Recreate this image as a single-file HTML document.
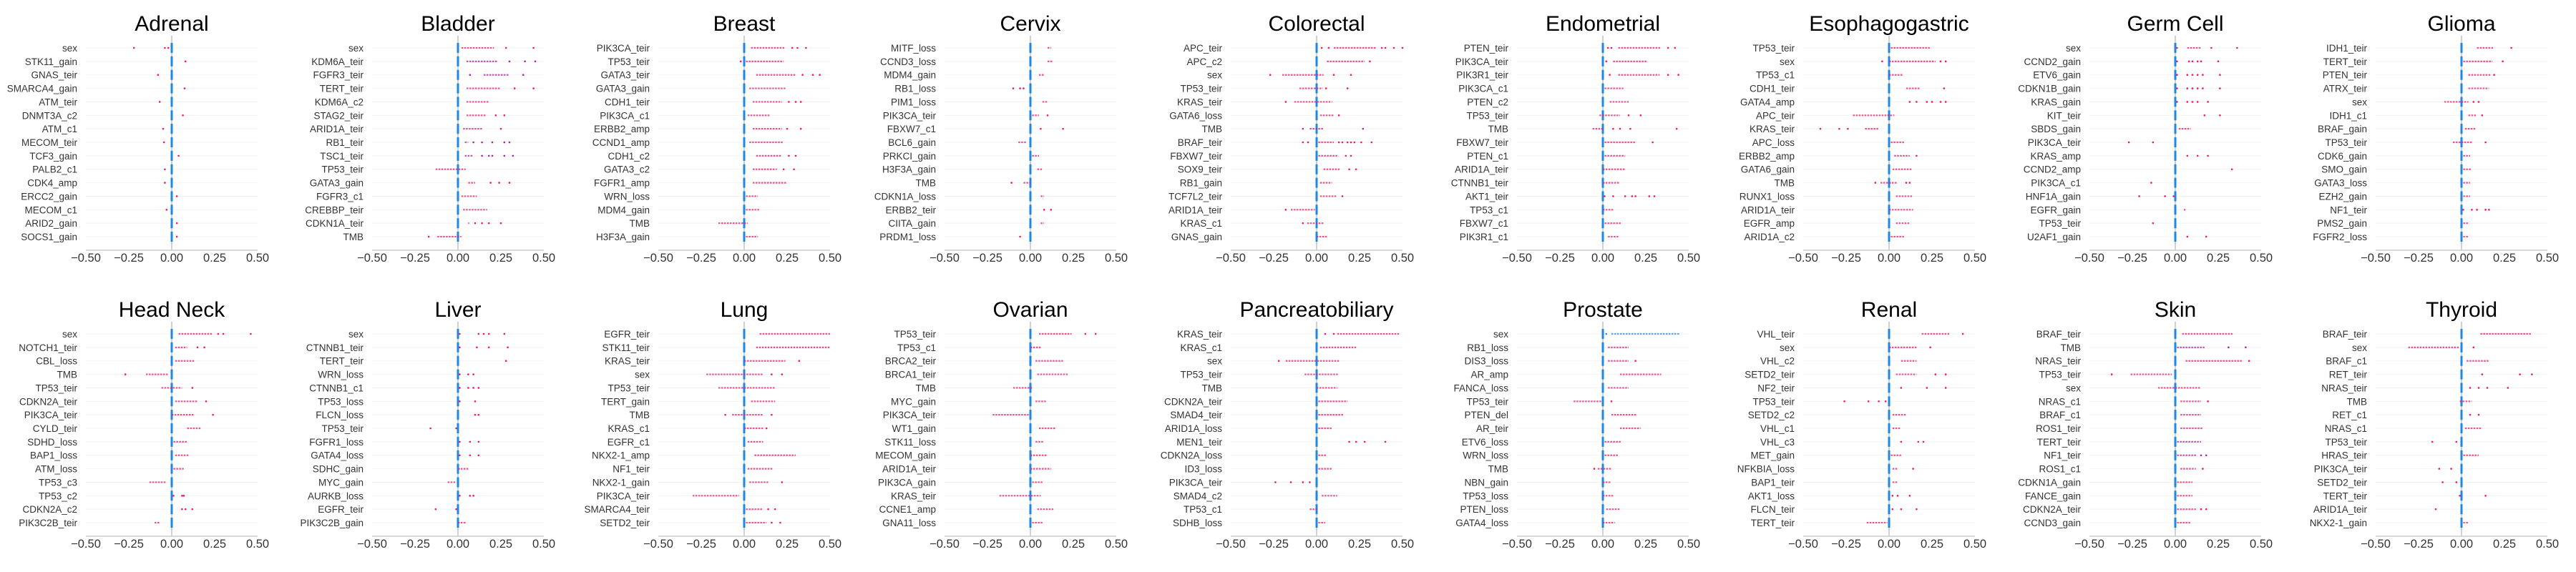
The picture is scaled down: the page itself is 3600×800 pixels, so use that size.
<!DOCTYPE html>
<html><head><meta charset="utf-8">
<style>
html,body{margin:0;padding:0;background:#fff;}
svg{display:block;font-family:"Liberation Sans",Arial,sans-serif;}
</style></head>
<body>
<svg id="chart" width="3600" height="800" viewBox="0 0 3600 800" xmlns="http://www.w3.org/2000/svg"></svg>
<script>
const panelTitles = ["Adrenal","Bladder","Breast","Cervix","Colorectal","Endometrial","Esophagogastric","Germ Cell","Glioma",
"Head Neck","Liver","Lung","Ovarian","Pancreatobiliary","Prostate","Renal","Skin","Thyroid"];
const tickValues = [-0.5,-0.25,0,0.25,0.5];
const tickLabels = ["\u22120.50","\u22120.25","0.00","0.25","0.50"];
const featureLabels = [
["sex","STK11_gain","GNAS_teir","SMARCA4_gain","ATM_teir","DNMT3A_c2","ATM_c1","MECOM_teir","TCF3_gain","PALB2_c1","CDK4_amp","ERCC2_gain","MECOM_c1","ARID2_gain","SOCS1_gain"],
["sex","KDM6A_teir","FGFR3_teir","TERT_teir","KDM6A_c2","STAG2_teir","ARID1A_teir","RB1_teir","TSC1_teir","TP53_teir","GATA3_gain","FGFR3_c1","CREBBP_teir","CDKN1A_teir","TMB"],
["PIK3CA_teir","TP53_teir","GATA3_teir","GATA3_gain","CDH1_teir","PIK3CA_c1","ERBB2_amp","CCND1_amp","CDH1_c2","GATA3_c2","FGFR1_amp","WRN_loss","MDM4_gain","TMB","H3F3A_gain"],
["MITF_loss","CCND3_loss","MDM4_gain","RB1_loss","PIM1_loss","PIK3CA_teir","FBXW7_c1","BCL6_gain","PRKCI_gain","H3F3A_gain","TMB","CDKN1A_loss","ERBB2_teir","CIITA_gain","PRDM1_loss"],
["APC_teir","APC_c2","sex","TP53_teir","KRAS_teir","GATA6_loss","TMB","BRAF_teir","FBXW7_teir","SOX9_teir","RB1_gain","TCF7L2_teir","ARID1A_teir","KRAS_c1","GNAS_gain"],
["PTEN_teir","PIK3CA_teir","PIK3R1_teir","PIK3CA_c1","PTEN_c2","TP53_teir","TMB","FBXW7_teir","PTEN_c1","ARID1A_teir","CTNNB1_teir","AKT1_teir","TP53_c1","FBXW7_c1","PIK3R1_c1"],
["TP53_teir","sex","TP53_c1","CDH1_teir","GATA4_amp","APC_teir","KRAS_teir","APC_loss","ERBB2_amp","GATA6_gain","TMB","RUNX1_loss","ARID1A_teir","EGFR_amp","ARID1A_c2"],
["sex","CCND2_gain","ETV6_gain","CDKN1B_gain","KRAS_gain","KIT_teir","SBDS_gain","PIK3CA_teir","KRAS_amp","CCND2_amp","PIK3CA_c1","HNF1A_gain","EGFR_gain","TP53_teir","U2AF1_gain"],
["IDH1_teir","TERT_teir","PTEN_teir","ATRX_teir","sex","IDH1_c1","BRAF_gain","TP53_teir","CDK6_gain","SMO_gain","GATA3_loss","EZH2_gain","NF1_teir","PMS2_gain","FGFR2_loss"],
["sex","NOTCH1_teir","CBL_loss","TMB","TP53_teir","CDKN2A_teir","PIK3CA_teir","CYLD_teir","SDHD_loss","BAP1_loss","ATM_loss","TP53_c3","TP53_c2","CDKN2A_c2","PIK3C2B_teir"],
["sex","CTNNB1_teir","TERT_teir","WRN_loss","CTNNB1_c1","TP53_loss","FLCN_loss","TP53_teir","FGFR1_loss","GATA4_loss","SDHC_gain","MYC_gain","AURKB_loss","EGFR_teir","PIK3C2B_gain"],
["EGFR_teir","STK11_teir","KRAS_teir","sex","TP53_teir","TERT_gain","TMB","KRAS_c1","EGFR_c1","NKX2-1_amp","NF1_teir","NKX2-1_gain","PIK3CA_teir","SMARCA4_teir","SETD2_teir"],
["TP53_teir","TP53_c1","BRCA2_teir","BRCA1_teir","TMB","MYC_gain","PIK3CA_teir","WT1_gain","STK11_loss","MECOM_gain","ARID1A_teir","PIK3CA_gain","KRAS_teir","CCNE1_amp","GNA11_loss"],
["KRAS_teir","KRAS_c1","sex","TP53_teir","TMB","CDKN2A_teir","SMAD4_teir","ARID1A_loss","MEN1_teir","CDKN2A_loss","ID3_loss","PIK3CA_teir","SMAD4_c2","TP53_c1","SDHB_loss"],
["sex","RB1_loss","DIS3_loss","AR_amp","FANCA_loss","TP53_teir","PTEN_del","AR_teir","ETV6_loss","WRN_loss","TMB","NBN_gain","TP53_loss","PTEN_loss","GATA4_loss"],
["VHL_teir","sex","VHL_c2","SETD2_teir","NF2_teir","TP53_teir","SETD2_c2","VHL_c1","VHL_c3","MET_gain","NFKBIA_loss","BAP1_teir","AKT1_loss","FLCN_teir","TERT_teir"],
["BRAF_teir","TMB","NRAS_teir","TP53_teir","sex","NRAS_c1","BRAF_c1","ROS1_teir","TERT_teir","NF1_teir","ROS1_c1","CDKN1A_gain","FANCE_gain","CDKN2A_teir","CCND3_gain"],
["BRAF_teir","sex","BRAF_c1","RET_teir","NRAS_teir","TMB","RET_c1","NRAS_c1","TP53_teir","HRAS_teir","PIK3CA_teir","SETD2_teir","TERT_teir","ARID1A_teir","NKX2-1_gain"]
];
const clusterRanges = [
[null,null,null,null,null,null,null,null,null,null,null,null,null,null,null],
[[0.02,0.21],[0.05,0.23],[0.15,0.3],[0.05,0.25],[0.05,0.18],[0.05,0.16],[0.03,0.14],[0.04,0.06],[0.04,0.09],[-0.13,0.045],[0.06,0.1],[0.02,0.11],[0.03,0.17],[0.06,0.065],[-0.12,0.02]],
[[0.04,0.24],[0.01,0.23],[0.07,0.3],[0.03,0.24],[0.05,0.22],[0.02,0.15],[0.05,0.22],[0.03,0.23],[0.07,0.22],[0.05,0.19],[0.05,0.25],[0.01,0.08],[0.01,0.09],[-0.15,0.02],[0.01,0.08]],
[[0.1,0.12],[0.1,0.13],[0.05,0.08],null,[0.07,0.1],[0.01,0.05],null,[-0.07,-0.02],[0.01,0.05],[0.04,0.07],[-0.04,0],[0.06,0.08],null,[0.06,0.08],null],
[[0.1,0.35],[0.06,0.28],[-0.2,0.04],[-0.1,0.035],[-0.13,0.09],[0.02,0.1],[-0.04,0.04],[0.01,0.1],[0.01,0.12],[0.04,0.14],[0.02,0.09],[0.02,0.12],[-0.15,-0.01],[-0.055,0.045],[0,0.06]],
[[0.09,0.34],[0.06,0.26],[0.09,0.33],[0.01,0.12],[0.04,0.15],[-0.02,0.1],[-0.06,0],[0.01,0.19],[0.01,0.13],[0,0.13],[0,0.1],null,[0,0.06],[0.01,0.11],[0.03,0.09]],
[[0.01,0.24],[0,0.27],[0,0.08],[0.1,0.18],null,[-0.21,0.03],[-0.14,-0.06],[0.01,0.09],[0.03,0.12],[0.02,0.13],[-0.05,0.05],[0.04,0.14],[0,0.14],[0.04,0.12],[0.01,0.09]],
[[0.07,0.15],null,null,null,null,null,[0.02,0.09],null,null,null,null,null,[0.05,0.06],null,null],
[[0.09,0.19],[0.01,0.18],[0.04,0.17],[0.04,0.16],[-0.1,0.04],[0.04,0.09],[0.02,0.08],[-0.05,0.06],[0.01,0.05],[0.01,0.06],[0.01,0.05],[0.01,0.05],null,[0.01,0.04],[0.01,0.04]],
[[0.04,0.24],[0.02,0.09],[0.02,0.13],[-0.15,-0.02],[-0.06,0.06],[0.02,0.15],[0,0.13],[0.09,0.17],[0.01,0.09],[0.02,0.1],[0.01,0.07],[-0.13,-0.03],null,null,[-0.1,-0.07]],
[null,null,null,null,null,null,null,null,null,null,[0,0.06],[-0.06,-0.01],null,null,[0,0.05]],
[[0.09,0.5],[0.07,0.5],[0,0.24],[-0.22,0.11],[-0.15,0.18],[0.04,0.18],[-0.07,0.11],[0,0.11],[0.02,0.11],[0.06,0.3],[0.02,0.17],[0.03,0.14],[-0.3,-0.03],[0.01,0.11],[0.01,0.13]],
[[0.05,0.24],[0,0.06],[0.03,0.19],[0.04,0.22],[-0.1,0.01],[0.03,0.09],[-0.22,-0.01],[0.05,0.15],[0.03,0.08],[0,0.1],[0,0.12],[0.01,0.07],[-0.18,0.06],[0.04,0.14],[0.01,0.07]],
[[0.12,0.48],[0.02,0.23],[-0.18,0.13],[-0.07,0.13],[0,0.12],[0.01,0.18],[0.01,0.16],[0.01,0.09],null,[0.01,0.06],[0.01,0.09],null,[0.03,0.12],[-0.04,0.01],[0.01,0.05]],
[[0.05,0.45],[0.03,0.15],[0.03,0.15],[0.1,0.34],[0.03,0.15],[-0.17,-0.01],[0.05,0.2],[0.1,0.22],[0.01,0.11],[0.01,0.09],[-0.03,0.05],[0,0.05],[0,0.06],[0.02,0.1],[0,0.07]],
[[0.19,0.35],[0,0.16],[0.07,0.16],[0.04,0.16],null,null,[0.02,0.1],[0.02,0.07],null,[0.01,0.07],[0.02,0.05],[0.02,0.05],null,null,[-0.13,-0.01]],
[[0.04,0.34],[0.01,0.17],[0.06,0.39],[-0.26,-0.02],[-0.1,0.15],[0.03,0.15],[0.03,0.15],[0.03,0.16],[0.01,0.15],[0.01,0.12],[0.03,0.12],[0.01,0.1],[0.01,0.1],[0.01,0.12],[0.01,0.09]],
[[0.11,0.41],[-0.31,-0.01],[0.03,0.16],null,null,[-0.01,0.06],null,[0.02,0.12],null,[0.01,0.1],null,null,null,null,[0.01,0.04]]
];
const outlierValues = [
[[-0.22,-0.04,-0.02],[0.08],[-0.08],[0.075],[-0.07],[0.065],[-0.05],[-0.045],[0.04],[-0.04],[-0.04],[0.03],[-0.03],[0.03],[0.03]],
[[0.28,0.44],[0.3,0.39,0.45],[0.07,0.38],[0.33,0.44],[],[0.22,0.27],[0.25],[0.09,0.14,0.2,0.27,0.3],[0.14,0.18,0.2,0.27,0.32],[],[0.19,0.24,0.3],[],[],[0.1,0.14,0.18,0.25],[-0.17]],
[[0.28,0.31,0.36],[-0.02],[0.34,0.4,0.44],[],[0.26,0.3,0.33],[],[0.25,0.33],[],[0.26,0.3],[0.23,0.29],[],[],[],[],[]],
[[],[],[],[-0.1,-0.06,-0.04],[],[0.1],[0.06,0.19],[],[],[],[-0.11],[],[0.08,0.12],[],[-0.06]],
[[0.03,0.07,0.38,0.4,0.45,0.5],[0.31],[-0.27,0.1,0.2],[0.055,0.18],[-0.18],[0.13],[-0.08,0.27],[-0.08,-0.05,0.13,0.15,0.18,0.2,0.22,0.26,0.32],[0.17,0.2],[0.19,0.23],[],[0.15],[-0.18],[-0.08],[]],
[[0.03,0.05,0.38,0.42],[0.02],[0.04,0.38,0.44],[],[],[0.15,0.22],[0.06,0.1,0.16,0.43],[0.29],[],[],[],[0.01,0.06,0.13,0.17,0.19,0.27,0.3],[],[],[]],
[[],[-0.04,0.3,0.33],[],[0.32],[0.12,0.16,0.22,0.25,0.3,0.33],[],[-0.4,-0.29,-0.24],[],[0.16],[],[-0.08,0.1,0.12],[],[],[],[]],
[[0.01,0.21,0.36],[0.01,0.08,0.1,0.13,0.15,0.25],[0.01,0.07,0.1,0.13,0.16,0.26],[0.01,0.07,0.1,0.13,0.16,0.26],[0.01,0.07,0.1,0.13,0.19],[0.17,0.26],[],[-0.27,-0.13],[0.07,0.13,0.19],[0.33],[-0.14],[-0.21,-0.06,-0.01],[],[-0.13],[0.07,0.18]],
[[0.29],[0.24],[0.19],[],[0.07,0.1],[0.12],[],[0.14],[],[],[],[],[0.01,0.06,0.09,0.14,0.16],[],[]],
[[0.27,0.3,0.46],[0.15,0.19],[],[-0.27],[0.12],[0.2],[0.24],[],[],[],[],[],[0.01,0.06,0.07],[0.06,0.08,0.12],[]],
[[0.01,0.12,0.15,0.18,0.27],[0.01,0.11,0.18,0.29],[0.28],[0.01,0.06,0.09],[0.01,0.06,0.09,0.12],[0.01,0.1],[0.1,0.12],[-0.16,-0.01],[0.01,0.07,0.12],[0.01,0.07,0.12],[],[],[0.01,0.07,0.09],[-0.13,-0.01],[]],
[[],[],[0.32],[0.16,0.22],[],[],[-0.11,0.16],[0.13],[],[],[],[0.22],[],[0.14,0.18],[0.16,0.21]],
[[0.32,0.38],[],[],[],[],[],[],[],[],[],[],[],[],[],[]],
[[0.05,0.1],[],[-0.22],[],[],[],[],[],[0.19,0.23,0.28,0.4],[],[],[-0.24,-0.15,-0.08,-0.04],[],[],[]],
[[0.02],[],[0.19],[],[],[0.05],[],[],[],[],[-0.05],[],[],[],[]],
[[0.43],[0.24],[],[0.27,0.33],[0.07,0.22,0.33],[-0.26,-0.12,-0.06,-0.02],[],[],[0.07,0.17,0.2],[],[0.14],[],[0.02,0.05,0.12],[0.02,0.07,0.16],[]],
[[],[0.31,0.41],[0.43],[-0.37],[],[0.19],[],[],[],[0.15,0.18],[0.16],[],[],[0.15,0.18],[]],
[[],[0.07],[],[0.12,0.34,0.41],[0.05,0.1,0.15,0.27],[],[0.05,0.1],[],[-0.17,-0.03],[],[-0.13,-0.06],[-0.11,-0.03],[-0.01,0.14],[-0.15],[]]
];
const blueRows = [[14,0]];
const purpleRows = [[1,1],[1,2],[1,7],[1,8],[4,6],[16,1],[16,8],[16,9]];

const NS = "http://www.w3.org/2000/svg";
const svg = document.getElementById('chart');
function mk(tag, attrs, parent){ const e=document.createElementNS(NS,tag); for(const k in attrs) e.setAttribute(k,attrs[k]); (parent||svg).appendChild(e); return e; }
const PANEL_W=400, PANEL_H=400, AX_L=120, AX_R=360, ROW0=67, ROW_DY=18.86, AXIS_Y=350;
function xScale(v, ox){ return ox + AX_L + (v+0.5)*(AX_R-AX_L); }
function yRow(i, oy){ return oy + ROW0 + i*ROW_DY; }
function inList(list,p,r){ return list.some(a=>a[0]===p&&a[1]===r); }

panelTitles.forEach((title,p)=>{
  const ox=(p%9)*PANEL_W, oy=Math.floor(p/9)*PANEL_H;
  const g=mk('g',{});
  
  
  const t=mk('text',{x:ox+240,y:oy+43,'text-anchor':'middle','font-size':30,fill:'#000'},g);
  t.textContent=title;
  
  
  const labels=featureLabels[p];
  labels.forEach((lab,i)=>{
    const y=yRow(i,oy);
    const gl=mk('line',{x1:ox+AX_L,x2:ox+AX_R,y1:y,y2:y,stroke:'#f2f2f2','stroke-width':1},g);
    
    
    const lt=mk('text',{x:ox+108,y:y+5,'text-anchor':'end','font-size':13.5,fill:'#333'},g);
    lt.textContent=lab;
    
    
  });
  const zl=mk('line',{x1:xScale(0,ox),x2:xScale(0,ox),y1:oy+50,y2:oy+AXIS_Y,stroke:'#d0d0d0','stroke-width':2},g);
  
  
  const ax=mk('line',{x1:ox+AX_L,x2:ox+AX_R,y1:oy+AXIS_Y,y2:oy+AXIS_Y,stroke:'#ccc','stroke-width':1.5},g);
  
  
  tickValues.forEach((v,k)=>{
    const tx=mk('text',{x:xScale(v,ox),y:oy+366,'text-anchor':'middle','font-size':16.5,fill:'#333'},g);
    tx.textContent=tickLabels[k];
    
    
  });
  labels.forEach((lab,i)=>{
    const y=yRow(i,oy);
    const col = inList(blueRows,p,i)?'#2a8be0':(inList(purpleRows,p,i)?'#b0239e':'#f0196a');
    const bz=mk('rect',{x:xScale(0,ox)-1.5,y:y-7,width:3,height:14,fill:'#1e88e5'},g);
    
    
    const cr=clusterRanges[p][i];
    if(cr){
      const x1=xScale(cr[0],ox), x2=xScale(cr[1],ox);
      const seg=mk('line',{x1:x1,x2:Math.max(x2,x1+1.5),y1:y,y2:y,stroke:col,'stroke-width':2.2,'stroke-dasharray':'2.5 1.5','opacity':0.75},g);
      
      
    }
    outlierValues[p][i].forEach(v=>{
      const c=mk('circle',{cx:xScale(v,ox),cy:y,r:1.3,fill:col},g);
      
      
    });
  });
});
</script>
</body></html>
